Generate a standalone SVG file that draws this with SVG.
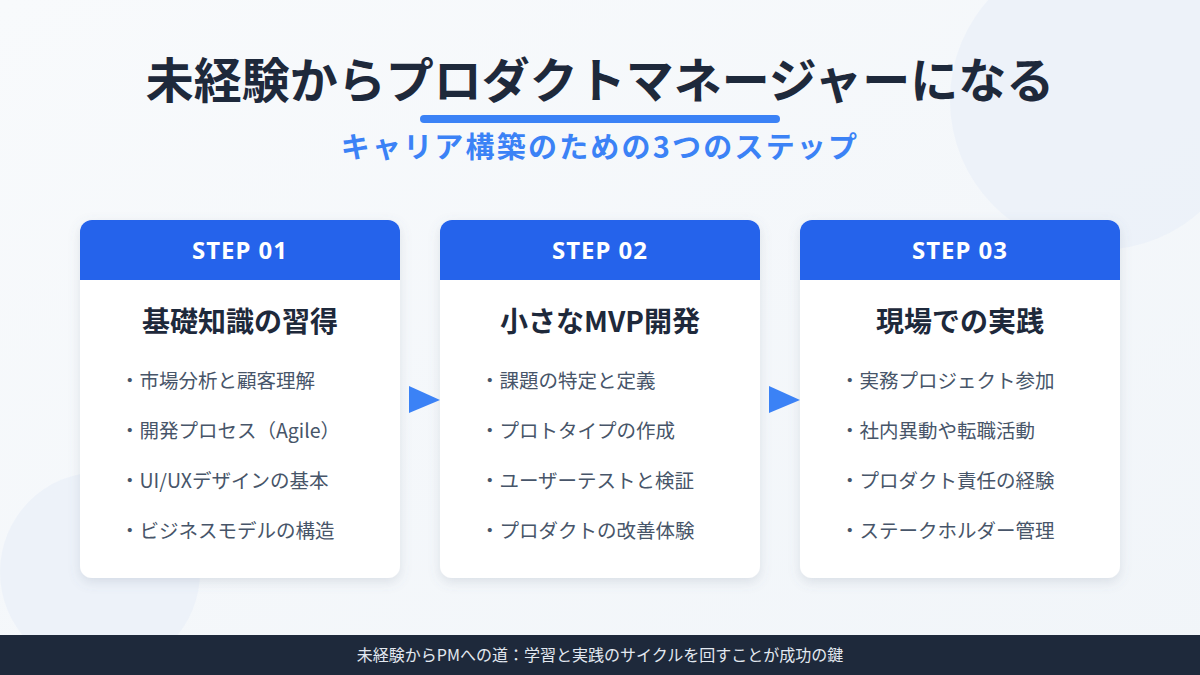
<svg xmlns="http://www.w3.org/2000/svg" width="1200" height="675" viewBox="0 0 1200 675">
<defs>
<linearGradient id="bg" x1="0" y1="0" x2="1" y2="1">
<stop offset="0" stop-color="#f8fafc"/>
<stop offset="1" stop-color="#f1f5f9"/>
</linearGradient>
<filter id="shadow" x="-20%" y="-20%" width="140%" height="140%">
<feDropShadow dx="0" dy="4" stdDeviation="6" flood-color="#64748b" flood-opacity="0.18"/>
</filter>
<clipPath id="hdrclip1"><rect x="80" y="220" width="320" height="358" rx="12"/></clipPath>
<clipPath id="hdrclip2"><rect x="440" y="220" width="320" height="358" rx="12"/></clipPath>
<clipPath id="hdrclip3"><rect x="800" y="220" width="320" height="358" rx="12"/></clipPath>
</defs>
<style>
text { font-family: "Noto Sans CJK JP", "Noto Sans", sans-serif; }
.title { font-size: 48px; font-weight: 700; fill: #1e293b; text-anchor: middle; }
.sub { font-size: 29px; font-weight: 700; fill: #3b82f6; text-anchor: middle; letter-spacing: 2.2px; }
.card { fill: #ffffff; filter: url(#shadow); }
.hdr { fill: #2563eb; }
.step { font-size: 24px; font-weight: 700; fill: #ffffff; text-anchor: middle; letter-spacing: 1px; font-family: "Noto Sans", "Noto Sans CJK JP", sans-serif; }
.ctitle { font-size: 28px; font-weight: 700; fill: #1e293b; text-anchor: middle; }
.item { font-size: 19.5px; fill: #475569; }
.arrow { fill: #3b82f6; }
.foot { font-size: 16px; fill: #e2e8f0; text-anchor: middle; }
</style>
<rect x="0" y="0" width="1200" height="675" fill="url(#bg)"/>
<circle cx="1100" cy="100" r="150" fill="#e8eef8" opacity="0.6"/>
<circle cx="100" cy="572" r="100" fill="#e8eef8" opacity="0.6"/>

<g id="title">
<text class="title" x="600" y="98">未経験からプロダクトマネージャーになる</text>
<rect x="420" y="115" width="360" height="8" rx="4" fill="#3b82f6"/>
<text class="sub" x="600" y="158">キャリア構築のための3つのステップ</text>
</g>

<g id="step1">
<rect class="card" x="80" y="220" width="320" height="358" rx="12"/>
<rect class="hdr" x="80" y="220" width="320" height="60" clip-path="url(#hdrclip1)"/>
<text class="step" x="240" y="259">STEP 01</text>
<text class="ctitle" x="240" y="332">基礎知識の習得</text>
<text class="item" x="120" y="388">・市場分析と顧客理解</text>
<text class="item" x="120" y="438">・開発プロセス（Agile）</text>
<text class="item" x="120" y="488">・UI/UXデザインの基本</text>
<text class="item" x="120" y="538">・ビジネスモデルの構造</text>
</g>

<g id="step2">
<rect class="card" x="440" y="220" width="320" height="358" rx="12"/>
<rect class="hdr" x="440" y="220" width="320" height="60" clip-path="url(#hdrclip2)"/>
<text class="step" x="600" y="259">STEP 02</text>
<text class="ctitle" x="600" y="332">小さなMVP開発</text>
<text class="item" x="480" y="388">・課題の特定と定義</text>
<text class="item" x="480" y="438">・プロトタイプの作成</text>
<text class="item" x="480" y="488">・ユーザーテストと検証</text>
<text class="item" x="480" y="538">・プロダクトの改善体験</text>
</g>

<g id="step3">
<rect class="card" x="800" y="220" width="320" height="358" rx="12"/>
<rect class="hdr" x="800" y="220" width="320" height="60" clip-path="url(#hdrclip3)"/>
<text class="step" x="960" y="259">STEP 03</text>
<text class="ctitle" x="960" y="332">現場での実践</text>
<text class="item" x="840" y="388">・実務プロジェクト参加</text>
<text class="item" x="840" y="438">・社内異動や転職活動</text>
<text class="item" x="840" y="488">・プロダクト責任の経験</text>
<text class="item" x="840" y="538">・ステークホルダー管理</text>
</g>

<g id="connectors">
<polygon class="arrow" points="409,386 409,413 440,400"/>
<polygon class="arrow" points="769,386 769,413 800,400"/>
</g>

<g id="footer">
<rect x="0" y="635" width="1200" height="40" fill="#1e293b"/>
<text class="foot" x="600" y="661">未経験からPMへの道：学習と実践のサイクルを回すことが成功の鍵</text>
</g>
</svg>
